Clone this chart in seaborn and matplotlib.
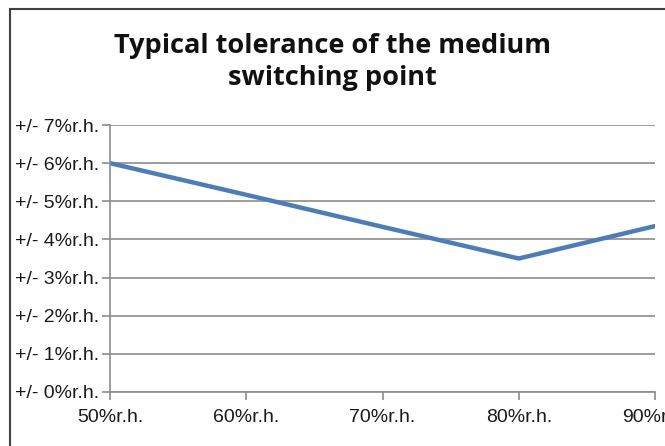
import matplotlib
matplotlib.use("Agg")
import matplotlib.pyplot as plt
from matplotlib.patches import Rectangle
import seaborn as sns
import pandas as pd

# humidity setpoints and the tolerance
humidity = [50, 60, 70, 80, 90]
tolerance = [6.0, 5.17, 4.33, 3.5, 4.35]
x_labels = ["50%r.h.", "60%r.h.", "70%r.h.", "80%r.h.", "90%r.h."]
y_labels = ["+/- {}%r.h.".format(i) for i in range(8)]

df = pd.DataFrame({"humidity": humidity, "tolerance": tolerance})

sns.set_style("white")
plt.rcParams["font.family"] = ["Liberation Sans", "DejaVu Sans"]

fig = plt.figure(figsize=(6.65, 4.46), dpi=100)
ax = fig.add_axes([0.1654, 0.1211, 0.8196, 0.5986])

sns.lineplot(data=df, x="humidity", y="tolerance", ax=ax,
             color="#4A7EBB", linewidth=3.2)

ax.set_xlim(50, 90)
ax.set_ylim(0, 7)
ax.set_xticks(humidity)
ax.set_xticklabels(x_labels, fontsize=14, color="#1a1a1a")
ax.set_yticks(range(8))
ax.set_yticklabels(y_labels, fontsize=14, color="#1a1a1a")
ax.set_xlabel("")
ax.set_ylabel("")

ax.grid(axis="y", color="#8c8c8c", linewidth=1.2)
ax.set_axisbelow(True)
for side in ["top", "right"]:
    ax.spines[side].set_visible(False)
for side in ["left", "bottom"]:
    ax.spines[side].set_color("#8c8c8c")
    ax.spines[side].set_linewidth(1.2)

ax.tick_params(axis="x", direction="out", length=6, width=1.2,
               color="#8c8c8c", bottom=True, pad=6)
ax.tick_params(axis="y", direction="out", length=6, width=1.2,
               color="#8c8c8c", left=True, pad=2)

fig.text(0.5, 0.861, "Typical tolerance of the medium\nswitching point",
         ha="center", va="center", fontsize=19.5, fontweight="bold",
         family=["Open Sans", "DejaVu Sans"], linespacing=1.3,
         color="#111111")

# outer chart frame, only left and top show in the picture
fig.add_artist(Rectangle((0.015, -0.1), 1.2, 1.0787, transform=fig.transFigure,
                         fill=False, edgecolor="#404040", linewidth=1.5))

fig.savefig("out.png", dpi=100)
